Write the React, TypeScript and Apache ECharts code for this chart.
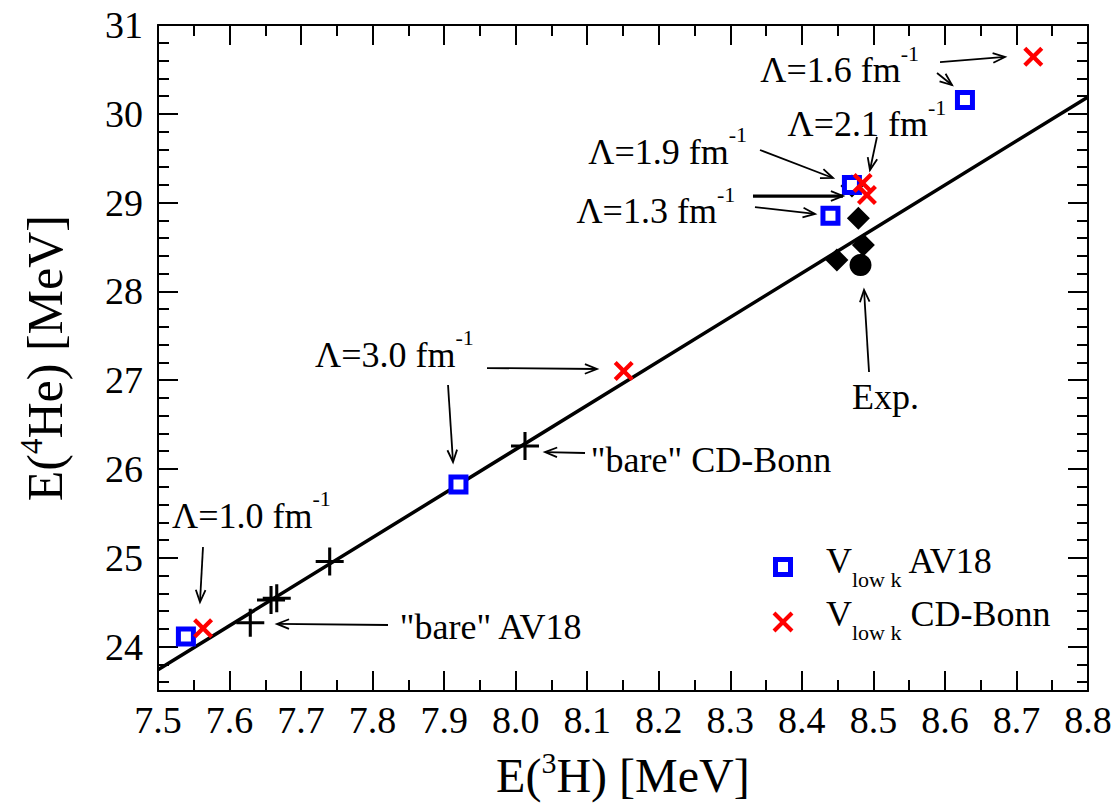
import React, { useEffect, useRef } from 'react';
import * as echarts from 'echarts';

const FONT = 'Liberation Serif, Times New Roman, Times, serif';

// Linear fit line (end points)
const fitX = [7.5, 8.8];
const fitY = [23.74, 30.19];

// V_low k AV18 (blue squares)
const av18X = [7.539, 7.92, 8.44, 8.47, 8.628];
const av18Y = [24.114, 25.826, 28.852, 29.198, 30.155];

// V_low k CD-Bonn (red crosses)
const cdbX = [7.563, 8.151, 8.485, 8.491, 8.7235];
const cdbY = [24.206, 27.104, 29.221, 29.086, 30.643];

// "bare" potentials (black plus)
const bareX = [7.629, 7.658, 7.666, 7.74, 8.013];
const bareY = [24.269, 24.525, 24.544, 24.959, 26.259];

// other calculations (black diamonds)
const diaX = [8.47, 8.479, 8.486, 8.449];
const diaY = [29.187, 28.823, 28.523, 28.354];

// experiment
const expX = [8.482];
const expY = [28.296];

// annotation texts (anchor = left edge / vertical centre of main text)
const annText = ['Λ=1.6 fm', 'Λ=2.1 fm', 'Λ=1.9 fm', 'Λ=1.3 fm', 'Exp.', 'Λ=3.0 fm', '"bare" CD-Bonn', 'Λ=1.0 fm', '"bare" AV18'];
const annSup = ['-1', '-1', '-1', '-1', '', '-1', '', '-1', ''];
const annX = [8.342, 8.38, 8.1015, 8.085, 8.47, 7.7195, 8.105, 7.5196, 7.838];
const annY = [30.493, 29.885, 29.573, 28.905, 26.811, 27.284, 26.101, 25.471, 24.221];

// arrows: from (x1,y1) to (x2,y2)
const arrX1 = [8.5931, 8.5889, 8.505, 8.3415, 8.3317, 8.3345, 8.4939, 7.9599, 7.9054, 8.0969, 7.5629, 7.8215];
const arrY1 = [30.583, 30.459, 29.739, 29.592, 29.074, 28.95, 27.092, 27.137, 26.946, 26.18, 25.122, 24.243];
const arrX2 = [8.684, 8.6099, 8.4952, 8.4435, 8.4575, 8.4184, 8.4869, 8.1136, 7.9124, 8.041, 7.5587, 7.6663];
const arrY2 = [30.64, 30.324, 29.367, 29.277, 29.074, 28.872, 28.016, 27.126, 26.079, 26.191, 24.502, 24.255];
const arrW = [1.8, 1.8, 1.8, 1.8, 3.2, 1.8, 1.8, 1.8, 1.8, 1.8, 1.8, 1.8];

const zip = (xs: number[], ys: number[]) => xs.map((x, i) => [x, ys[i]]);

const PLUS = 'path://M8.9,0H11.1V8.9H20V11.1H11.1V20H8.9V11.1H0V8.9H8.9Z';
const CROSS = 'path://M3,0L10,7L17,0L20,3L13,10L20,17L17,20L10,13L3,20L0,17L7,10L0,3Z';

const axisCommon = (showLabel: boolean) => ({
  axisLine: { show: true, onZero: false, lineStyle: { color: '#000', width: 2 } },
  axisTick: { show: true, inside: true, length: 20, lineStyle: { color: '#000', width: 2 } },
  minorTick: { show: true, length: 11, lineStyle: { color: '#000', width: 2 } },
  splitLine: { show: false },
  minorSplitLine: { show: false },
  axisLabel: { show: showLabel },
});

const annRich: any = {
  m: { fontFamily: FONT, fontSize: 36, lineHeight: 36, verticalAlign: 'bottom', color: '#000', fill: '#000' },
  s: { fontFamily: FONT, fontSize: 22, lineHeight: 22, verticalAlign: 'top', color: '#000', fill: '#000' },
  p: { fontFamily: FONT, fontSize: 1, lineHeight: 46 },
};

const legRich: any = {
  v: { fontFamily: FONT, fontSize: 36, lineHeight: 36, verticalAlign: 'top', color: '#000', fill: '#000' },
  s: { fontFamily: FONT, fontSize: 22, lineHeight: 22, verticalAlign: 'bottom', color: '#000', fill: '#000' },
  p: { fontFamily: FONT, fontSize: 1, lineHeight: 47 },
};

const nameRich = (size: number): any => ({
  m: { fontFamily: FONT, fontSize: size, lineHeight: size, verticalAlign: 'bottom', color: '#000' },
  s: { fontFamily: FONT, fontSize: Math.round(size * 0.62), lineHeight: Math.round(size * 0.62), verticalAlign: 'top', color: '#000' },
  p: { fontFamily: FONT, fontSize: 1, lineHeight: size + 4 },
});

export default function App() {
  const ref = useRef<HTMLDivElement>(null);
  useEffect(() => {
    if (!ref.current) return;
    const chart = echarts.init(ref.current, undefined, { renderer: 'svg' });
    const option: any = {
      animation: false,
      backgroundColor: '#fff',
      textStyle: { fontFamily: FONT },
      grid: { left: 158, right: 32, top: 25, bottom: 115 },
      xAxis: [
        {
          type: 'value', min: 7.5, max: 8.8, interval: 0.1, position: 'bottom',
          ...axisCommon(true),
          minorTick: { show: true, splitNumber: 2, length: 11, lineStyle: { color: '#000', width: 2 } },
          axisLabel: { show: true, fontFamily: FONT, fontSize: 38, color: '#000', margin: 10, interval: 0, showMinLabel: true, showMaxLabel: true, formatter: (v: number) => v.toFixed(1) },
          name: '{m|E(}{s|3}{m|H) [MeV]}{p| }', nameLocation: 'middle', nameGap: 56,
          nameTextStyle: { fontFamily: FONT, fontSize: 48, color: '#000', rich: nameRich(48) },
        },
        {
          type: 'value', min: 7.5, max: 8.8, interval: 0.1, position: 'top',
          ...axisCommon(false),
          minorTick: { show: true, splitNumber: 2, length: 11, lineStyle: { color: '#000', width: 2 } },
        },
      ],
      yAxis: [
        {
          type: 'value', min: 23.5, max: 31, splitNumber: 8, minInterval: 1, maxInterval: 1, position: 'left',
          ...axisCommon(true),
          minorTick: { show: true, splitNumber: 5, length: 11, lineStyle: { color: '#000', width: 2 } },
          axisLabel: { show: true, fontFamily: FONT, fontSize: 38, color: '#000', margin: 15, interval: 0, formatter: (v: number) => (Math.abs(v - Math.round(v)) < 1e-6 ? String(Math.round(v)) : '') },
          name: '{m|E(}{s|4}{m|He) [MeV]}{p| }', nameLocation: 'middle', nameGap: 88, nameRotate: 90,
          nameTextStyle: { fontFamily: FONT, fontSize: 50, color: '#000', rich: nameRich(50) },
        },
        {
          type: 'value', min: 23.5, max: 31, splitNumber: 8, minInterval: 1, maxInterval: 1, position: 'right',
          ...axisCommon(false),
          minorTick: { show: true, splitNumber: 5, length: 11, lineStyle: { color: '#000', width: 2 } },
        },
      ],
      series: [
        {
          name: 'fit', type: 'line', xAxisIndex: 0, yAxisIndex: 0, data: zip(fitX, fitY),
          showSymbol: false, symbol: 'none', lineStyle: { color: '#000', width: 3.5, opacity: 1 }, z: 1, silent: true,
        },
        {
          name: 'other', type: 'scatter', data: zip(diaX, diaY), symbol: 'diamond', symbolSize: 23,
          itemStyle: { color: '#000', opacity: 1 }, z: 2, silent: true,
        },
        {
          name: 'Exp', type: 'scatter', data: zip(expX, expY), symbol: 'circle', symbolSize: 22,
          itemStyle: { color: '#000', opacity: 1 }, z: 2, silent: true,
        },
        {
          name: 'bare', type: 'scatter', data: zip(bareX, bareY), symbol: PLUS, symbolSize: 28,
          itemStyle: { color: '#000', opacity: 1 }, z: 2, silent: true,
        },
        {
          name: 'Vlowk AV18', type: 'scatter', data: zip(av18X, av18Y), symbol: 'rect', symbolSize: 15,
          itemStyle: { color: '#fff', borderColor: '#0000ff', borderWidth: 5, opacity: 1 }, z: 3, silent: true,
        },
        {
          name: 'Vlowk CD-Bonn', type: 'scatter', data: zip(cdbX, cdbY), symbol: CROSS, symbolSize: 20,
          itemStyle: { color: '#ff0000', opacity: 1 }, z: 4, silent: true,
        },
        {
          name: 'arrows', type: 'custom', coordinateSystem: 'cartesian2d', silent: true, z: 5,
          encode: { x: [0, 2], y: [1, 3] },
          data: arrX1.map((x, i) => [x, arrY1[i], arrX2[i], arrY2[i], arrW[i]]),
          renderItem: (params: any, api: any) => {
            const a = api.coord([api.value(0), api.value(1)]);
            const b = api.coord([api.value(2), api.value(3)]);
            const w = api.value(4);
            const ang = Math.atan2(b[1] - a[1], b[0] - a[0]);
            const L = 13, h = 0.38;
            const h1 = [b[0] - L * Math.cos(ang - h), b[1] - L * Math.sin(ang - h)];
            const h2 = [b[0] - L * Math.cos(ang + h), b[1] - L * Math.sin(ang + h)];
            return {
              type: 'group',
              children: [
                { type: 'line', shape: { x1: a[0], y1: a[1], x2: b[0], y2: b[1] }, style: { stroke: '#000', lineWidth: w } },
                { type: 'polyline', shape: { points: [h1, [b[0], b[1]], h2] }, style: { stroke: '#000', lineWidth: 1.8, fill: 'none' } },
              ],
            };
          },
        },
        {
          name: 'labels', type: 'custom', coordinateSystem: 'cartesian2d', silent: true, z: 6,
          encode: { x: 0, y: 1 },
          data: annX.map((x, i) => [x, annY[i], i]),
          renderItem: (params: any, api: any) => {
            const i = api.value(2);
            const p = api.coord([api.value(0), api.value(1)]);
            const sup = annSup[i];
            const text = sup ? `{m|${annText[i]}}{s|${sup}}{p| }` : `{m|${annText[i]}}`;
            return {
              type: 'text',
              x: p[0],
              y: sup ? p[1] - 5 : p[1],
              style: {
                text, rich: annRich, fill: '#000', fontFamily: FONT, fontSize: 36,
                align: 'left', verticalAlign: 'middle', textAlign: 'left', textVerticalAlign: 'middle',
              },
            };
          },
        },
      ],
      graphic: [
        { type: 'rect', shape: { x: 775.5, y: 559.5, width: 15, height: 15 }, style: { fill: '#fff', stroke: '#0000ff', lineWidth: 5 }, z: 10 },
        { type: 'line', shape: { x1: 774, y1: 613, x2: 792, y2: 631 }, style: { stroke: '#ff0000', lineWidth: 4 }, z: 10 },
        { type: 'line', shape: { x1: 792, y1: 613, x2: 774, y2: 631 }, style: { stroke: '#ff0000', lineWidth: 4 }, z: 10 },
        {
          type: 'text', x: 826, y: 543, z: 10,
          style: { text: '{v|V}{s|low k}{v| AV18}{p| }', rich: legRich, fill: '#000', fontFamily: FONT, fontSize: 36, align: 'left', verticalAlign: 'top', textAlign: 'left', textVerticalAlign: 'top' },
        },
        {
          type: 'text', x: 826, y: 596, z: 10,
          style: { text: '{v|V}{s|low k}{v| CD-Bonn}{p| }', rich: legRich, fill: '#000', fontFamily: FONT, fontSize: 36, align: 'left', verticalAlign: 'top', textAlign: 'left', textVerticalAlign: 'top' },
        },
      ],
    };
    chart.setOption(option);
    return () => chart.dispose();
  }, []);
  return (
    <div
      ref={ref}
      style={{ position: 'absolute', left: 0, top: 0, width: 1120, height: 806, background: '#fff' }}
    />
  );
}
